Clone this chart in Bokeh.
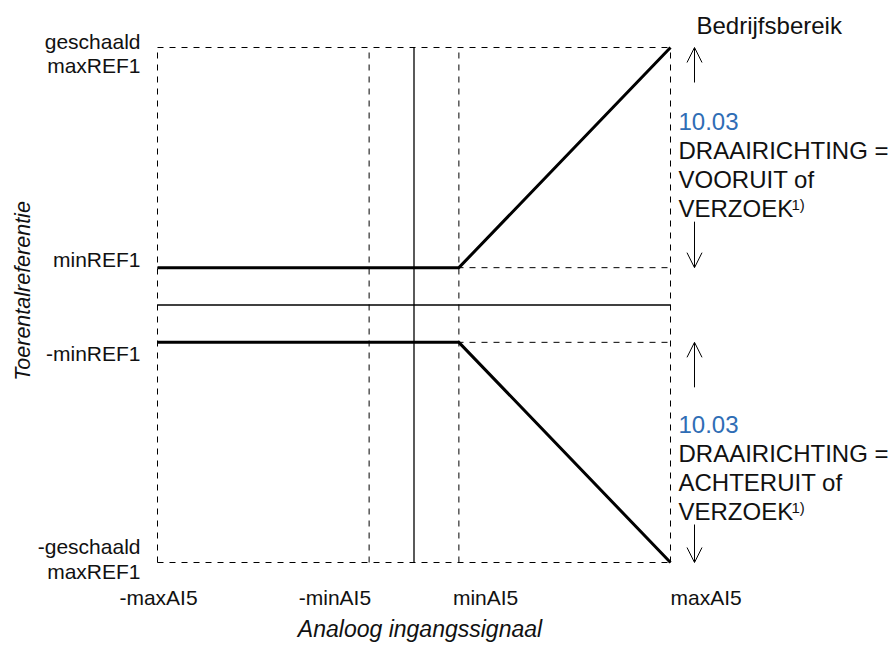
import math
from bokeh.plotting import figure
from bokeh.models import Arrow, OpenHead
from bokeh.core.properties import value
from bokeh.embed import file_html
from bokeh.resources import INLINE

# ---------------- data ----------------
x_ticks = [-1.0, -0.175, 0.175, 1.0]
x_labels = ["-maxAI5", "-minAI5", "minAI5", "maxAI5"]
y_ticks = [-1.0, -0.145, 0.145, 1.0]
y_labels = ["-geschaald\nmaxREF1", "-minREF1", "minREF1", "geschaald\nmaxREF1"]

fwd_x = [-1.0, 0.175, 1.0]
fwd_y = [0.145, 0.145, 1.0]
rev_x = [-1.0, 0.175, 1.0]
rev_y = [-0.145, -0.145, -1.0]

x_title = "Analoog ingangssignaal"
y_title = "Toerentalreferentie"
range_title = "Bedrijfsbereik"
param_id = "10.03"
fwd_text = ["DRAAIRICHTING =", "VOORUIT of", "VERZOEK"]
rev_text = ["DRAAIRICHTING =", "ACHTERUIT of", "VERZOEK"]
footnote = "1)"

# ---------------- layout ----------------
W, H = 890, 646
PX = 256.5   # pixels per x unit
PY = 257.5   # pixels per y unit
x0 = -1 - 157 / PX
x1 = 1 + (W - 670) / PX
y1 = 1 + 47 / PY
y0 = -1 - (H - 562) / PY

FONT = value("Liberation Sans")
BLUE = "#2f6db5"
INK = "#111111"

p = figure(width=W, height=H, x_range=(x0, x1), y_range=(y0, y1),
           output_backend="svg", toolbar_location=None,
           x_axis_location=None, y_axis_location=None, min_border=0)
p.outline_line_color = None
p.xgrid.visible = False
p.ygrid.visible = False

xmin, xmax = x_ticks[0], x_ticks[-1]
ymin, ymax = y_ticks[0], y_ticks[-1]

# dashed guide lines
p.segment(x0=x_ticks, y0=[ymin] * 4, x1=x_ticks, y1=[ymax] * 4,
          line_color="black", line_width=1, line_dash="6 6")
p.segment(x0=[xmin] * 4, y0=y_ticks, x1=[xmax] * 4, y1=y_ticks,
          line_color="black", line_width=1, line_dash="6 6")

# solid axes through origin
p.segment(x0=[0, xmin], y0=[ymin, 0], x1=[0, xmax], y1=[ymax, 0],
          line_color="black", line_width=1.3)

# characteristic curves
p.line(fwd_x, fwd_y, line_color="black", line_width=3)
p.line(rev_x, rev_y, line_color="black", line_width=3)

# arrows
ax = xmax + 24 / PX
arrow_specs = [
    (ymax - 35 / PY, ymax),
    (y_ticks[2] + 46 / PY, y_ticks[2]),
    (y_ticks[1] - 45 / PY, y_ticks[1]),
    (ymin + 38 / PY, ymin),
]
for ys, ye in arrow_specs:
    p.add_layout(Arrow(end=OpenHead(size=15, line_width=1, line_color="black"),
                       x_start=ax, y_start=ys, x_end=ax, y_end=ye,
                       line_color="black", line_width=1))

# y tick labels (right aligned)
y_line_offsets = [[-16, 9], [11], [-8], [-6, 18]]
for yv, lab, offs in zip(y_ticks, y_labels, y_line_offsets):
    for line, off in zip(lab.split("\n"), offs):
        p.text(x=[xmin], y=[yv], text=[line], text_font=FONT, text_font_size="21px",
               text_align="right", text_baseline="alphabetic",
               x_offset=-17, y_offset=off, text_color=INK)

# x tick labels
x_aligns = ["center", "right", "left", "left"]
x_offs = [1, 2, -6, 0]
for xv, lab, al, xo in zip(x_ticks, x_labels, x_aligns, x_offs):
    p.text(x=[xv], y=[ymin], text=[lab], text_font=FONT, text_font_size="21px",
           text_align=al, text_baseline="alphabetic", x_offset=xo, y_offset=35,
           text_color=INK)

# axis titles
p.text(x=[0], y=[ymin], text=[x_title], text_font=FONT, text_font_size="23px",
       text_font_style="italic", text_align="center", text_baseline="alphabetic",
       x_offset=6, y_offset=66, text_color=INK)
p.text(x=[xmin], y=[0], text=[y_title], text_font=FONT, text_font_size="21.5px",
       text_font_style="italic", text_align="center", text_baseline="middle",
       angle=math.pi / 2, x_offset=-135, y_offset=-14, text_color=INK)

# right-hand annotations
p.text(x=[xmax], y=[ymax], text=[range_title], text_font=FONT, text_font_size="24px",
       text_align="left", text_baseline="alphabetic", x_offset=26, y_offset=-22,
       text_color=INK)

def block(anchor_y, lines, base):
    p.text(x=[xmax], y=[anchor_y], text=[param_id], text_font=FONT,
           text_font_size="24px", text_align="left", text_baseline="alphabetic",
           x_offset=8, y_offset=base, text_color=BLUE)
    for i, t in enumerate(lines):
        p.text(x=[xmax], y=[anchor_y], text=[t], text_font=FONT,
               text_font_size="24px", text_align="left", text_baseline="alphabetic",
               x_offset=8, y_offset=base + 29 * (i + 1), text_color=INK)
    p.text(x=[xmax], y=[anchor_y], text=[footnote], text_font=FONT,
           text_font_size="15px", text_align="left", text_baseline="alphabetic",
           x_offset=121, y_offset=base + 29 * 3 - 4, text_color=INK)

block(ymax, fwd_text, 74)
block(y_ticks[1], rev_text, 82)

open("out.html", "w").write(file_html(p, INLINE))
